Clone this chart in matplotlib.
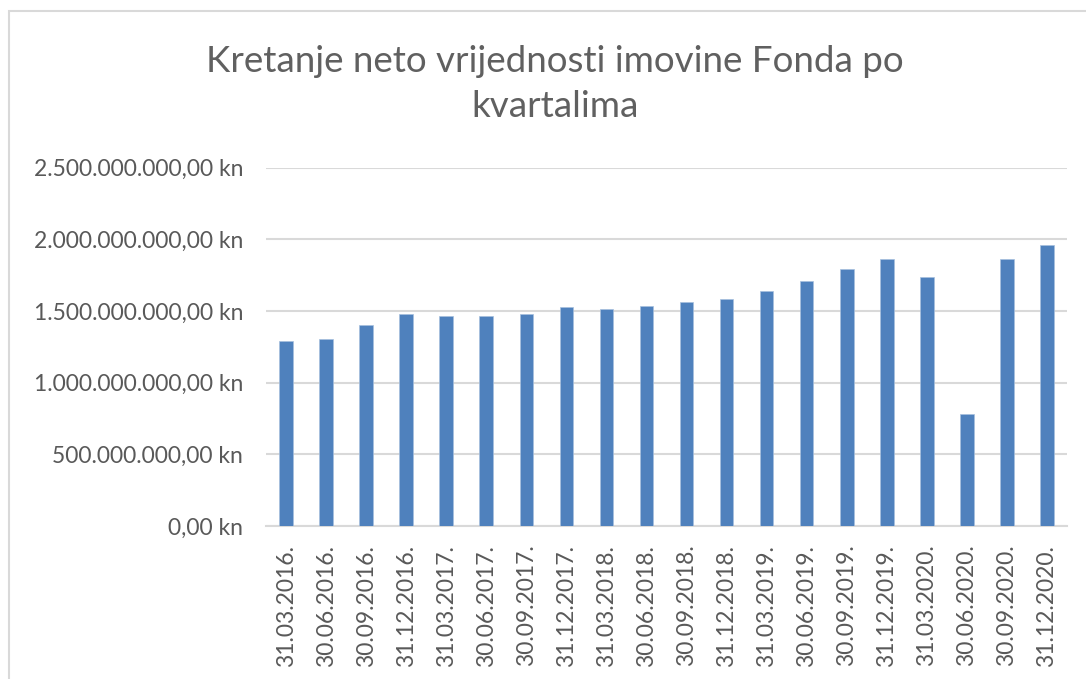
import matplotlib
matplotlib.use("Agg")
import matplotlib.pyplot as plt
from matplotlib.patches import Rectangle
from matplotlib.ticker import FuncFormatter
import numpy as np

quarters = ["31.03.2016.", "30.06.2016.", "30.09.2016.", "31.12.2016.",
            "31.03.2017.", "30.06.2017.", "30.09.2017.", "31.12.2017.",
            "31.03.2018.", "30.06.2018.", "30.09.2018.", "31.12.2018.",
            "31.03.2019.", "30.06.2019.", "30.09.2019.", "31.12.2019.",
            "31.03.2020.", "30.06.2020.", "30.09.2020.", "31.12.2020."]
# neto vrijednost imovine, mlrd kn (ocitano sa slike)
nav_bn = [1.288, 1.306, 1.400, 1.476, 1.467, 1.467, 1.476, 1.525,
          1.515, 1.534, 1.564, 1.583, 1.641, 1.706, 1.794, 1.860,
          1.736, 0.779, 1.860, 1.957]
y_ticks = [0, 0.5e9, 1.0e9, 1.5e9, 2.0e9, 2.5e9]

TEXT = "#595959"
plt.rcParams['font.family'] = ['Lato', 'DejaVu Sans']


def kn_fmt(v, pos):
    s = "{:,.2f}".format(v)
    s = s.replace(",", "X").replace(".", ",").replace("X", ".")
    return s + " kn"


fig = plt.figure(figsize=(10.86, 6.79), dpi=100)
fig.patches.append(Rectangle((9 / 1086, -0.1), 1.2, 1.1 - 11 / 679,
                             transform=fig.transFigure, fill=False,
                             edgecolor="#D9D9D9", linewidth=1.5))
ax = fig.add_axes([266 / 1086, 153 / 679, 801 / 1086, 358.5 / 679])

x = np.arange(len(quarters))
values = np.array(nav_bn) * 1e9
ax.bar(x, values, width=0.34, color="#4F81BD", edgecolor="#A7C0DE",
       linewidth=0.5, zorder=3)

ax.set_xlim(-0.5, len(quarters) - 0.5)
ax.set_ylim(0, 2.5e9)
ax.set_yticks(y_ticks)
ax.yaxis.set_major_formatter(FuncFormatter(kn_fmt))
ax.set_xticks(x)
ax.set_xticklabels(quarters, rotation=90)
ax.grid(axis="y", color="#D9D9D9", linewidth=1.5, zorder=0)
for sp in ["top", "right", "left"]:
    ax.spines[sp].set_visible(False)
ax.spines["bottom"].set_color("#D9D9D9")
ax.spines["bottom"].set_linewidth(1.5)
ax.tick_params(axis="both", length=0, colors=TEXT, labelsize=16.5)
ax.tick_params(axis="y", pad=16.5)
ax.tick_params(axis="x", pad=13.5)

fig.text(0.511, 0.876, "Kretanje neto vrijednosti imovine Fonda po\nkvartalima",
         ha="center", va="center", fontsize=26.5, color="#606060",
         linespacing=1.45)

fig.savefig("out.png", dpi=100)
